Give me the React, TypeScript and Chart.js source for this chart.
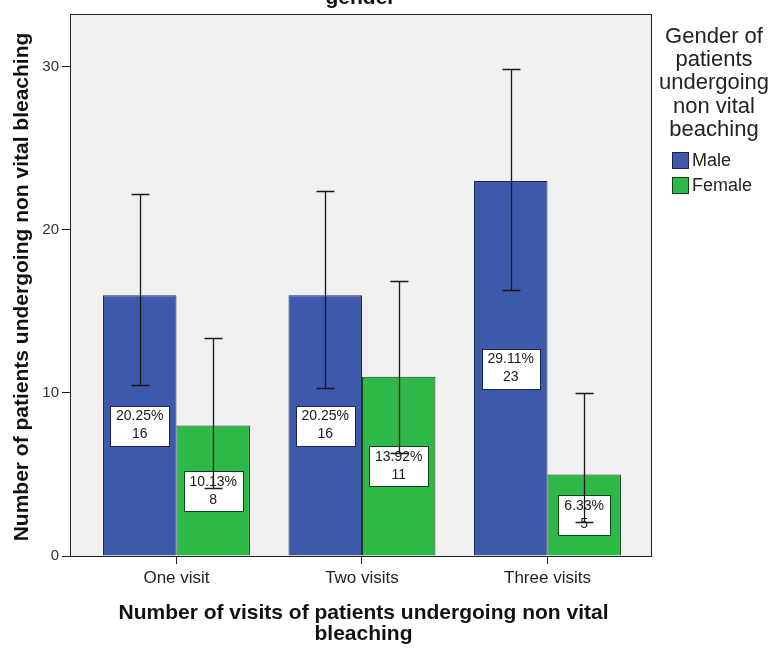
import React, { useEffect, useRef } from 'react';
import { Chart, registerables } from 'chart.js';
Chart.register(...registerables);

const categories = ['One visit', 'Two visits', 'Three visits'];
const seriesNames = ['Male', 'Female'];
const maleCounts = [16, 16, 23];
const femaleCounts = [8, 11, 5];
const malePercents = [20.25, 20.25, 29.11];
const femalePercents = [10.13, 13.92, 6.33];
const maleLower = [10.5, 10.3, 16.3];
const maleUpper = [22.2, 22.4, 29.9];
const femaleLower = [4.2, 6.3, 2.1];
const femaleUpper = [13.4, 16.9, 10.0];
const yTicks = [0, 10, 20, 30];
const chartTitle = 'gender';
const xTitleLines = ['Number of visits of patients undergoing non vital', 'bleaching'];
const yTitle = 'Number of patients undergoing non vital bleaching';
const legendTitleLines = ['Gender of', 'patients', 'undergoing', 'non vital', 'beaching'];

const FONT = '"Liberation Sans", Arial, Helvetica, sans-serif';
const COLORS = ['#3E58AC', '#2EB848'];
const BORDERS = ['#1c2550', '#10401c'];

const overlay = {
  id: 'overlay',
  beforeDraw(chart: any) {
    const { ctx, chartArea: a } = chart;
    ctx.save();
    ctx.fillStyle = '#F0F0F0';
    ctx.fillRect(a.left, a.top, a.right - a.left, a.bottom - a.top);
    ctx.restore();
  },
  afterDatasetsDraw(chart: any) {
    const { ctx, chartArea: a } = chart;
    const ys = chart.scales.y;
    const counts = [maleCounts, femaleCounts];
    const pcts = [malePercents, femalePercents];
    const lows = [maleLower, femaleLower];
    const highs = [maleUpper, femaleUpper];
    ctx.save();
    // value labels
    ctx.font = `14px ${FONT}`;
    ctx.textAlign = 'center';
    ctx.textBaseline = 'middle';
    for (let d = 0; d < 2; d++) {
      const meta = chart.getDatasetMeta(d);
      meta.data.forEach((bar: any, i: number) => {
        const cx = bar.x;
        const cy = ys.getPixelForValue(counts[d][i] / 2);
        const l1 = pcts[d][i].toFixed(2) + '%';
        const l2 = String(counts[d][i]);
        const w = Math.round(Math.max(ctx.measureText(l1).width, ctx.measureText(l2).width) + 12);
        const h = 40;
        const x0 = Math.round(cx - w / 2) + 0.5;
        const y0 = Math.round(cy - h / 2) + 0.5;
        ctx.fillStyle = '#ffffff';
        ctx.fillRect(x0, y0, w, h);
        ctx.strokeStyle = BORDERS[d];
        ctx.lineWidth = 1;
        ctx.strokeRect(x0, y0, w, h);
        ctx.fillStyle = '#1a1a1a';
        ctx.fillText(l1, cx, cy - 9);
        ctx.fillText(l2, cx, cy + 9);
      });
    }
    // error bars
    ctx.strokeStyle = '#1a1a1a';
    ctx.lineWidth = 1.3;
    for (let d = 0; d < 2; d++) {
      const meta = chart.getDatasetMeta(d);
      meta.data.forEach((bar: any, i: number) => {
        const x = Math.round(bar.x) + 0.5;
        const yl = Math.round(ys.getPixelForValue(lows[d][i])) + 0.5;
        const yh = Math.round(ys.getPixelForValue(highs[d][i])) + 0.5;
        ctx.beginPath();
        ctx.moveTo(x, yl);
        ctx.lineTo(x, yh);
        ctx.moveTo(x - 9, yl);
        ctx.lineTo(x + 9, yl);
        ctx.moveTo(x - 9, yh);
        ctx.lineTo(x + 9, yh);
        ctx.stroke();
      });
    }
    // frame
    ctx.strokeStyle = '#222';
    ctx.lineWidth = 1;
    ctx.strokeRect(Math.round(a.left) + 0.5, Math.round(a.top) + 0.5, Math.round(a.right - a.left), Math.round(a.bottom - a.top));
    ctx.restore();
  },
  afterDraw(chart: any) {
    const { ctx, chartArea: a } = chart;
    const cx = (a.left + a.right) / 2;
    ctx.save();
    ctx.fillStyle = '#111';
    ctx.textAlign = 'center';
    // title (partly cut off at the top)
    ctx.font = `bold 21px ${FONT}`;
    ctx.textBaseline = 'alphabetic';
    ctx.fillText(chartTitle, cx, 4);
    // x title
    ctx.textBaseline = 'middle';
    ctx.fillText(xTitleLines[0], cx + 3, 613);
    ctx.fillText(xTitleLines[1], cx + 3, 634);
    // y title
    ctx.save();
    ctx.translate(22, (a.top + a.bottom) / 2 + 2);
    ctx.rotate(-Math.PI / 2);
    ctx.fillText(yTitle, 0, 0);
    ctx.restore();
    // legend
    ctx.fillStyle = '#222';
    ctx.font = `22px ${FONT}`;
    legendTitleLines.forEach((t, i) => ctx.fillText(t, 714, 37 + i * 23.2));
    ctx.font = `18px ${FONT}`;
    ctx.textAlign = 'left';
    seriesNames.forEach((n, i) => {
      const y = 152 + i * 25;
      ctx.fillStyle = COLORS[i];
      ctx.fillRect(672, y, 17, 17);
      ctx.strokeStyle = BORDERS[i];
      ctx.lineWidth = 1;
      ctx.strokeRect(672.5, y + 0.5, 16, 16);
      ctx.fillStyle = '#222';
      ctx.fillText(n, 692, y + 9);
    });
    ctx.restore();
  },
};

export default function App() {
  const ref = useRef<HTMLCanvasElement | null>(null);
  useEffect(() => {
    if (!ref.current) return;
    const chart = new Chart(ref.current, {
      type: 'bar',
      data: {
        datasets: [
          {
            label: seriesNames[0],
            data: maleCounts.map((v, i) => ({ x: i, y: v })),
            backgroundColor: COLORS[0],
            borderColor: BORDERS[0],
            borderWidth: 1,
          },
          {
            label: seriesNames[1],
            data: femaleCounts.map((v, i) => ({ x: i, y: v })),
            backgroundColor: COLORS[1],
            borderColor: BORDERS[1],
            borderWidth: 1,
          },
        ],
      },
      options: {
        responsive: false,
        animation: false,
        devicePixelRatio: 1,
        categoryPercentage: 0.792,
        barPercentage: 1,
        layout: { padding: { left: 0, top: 14, right: 123, bottom: 0 } },
        plugins: { legend: { display: false }, tooltip: { enabled: false }, title: { display: false } },
        scales: {
          x: {
            type: 'linear',
            min: -0.574,
            max: 2.558,
            offset: false,
            afterBuildTicks: (s: any) => {
              s.ticks = categories.map((_, i) => ({ value: i }));
            },
            afterFit: (s: any) => {
              s.height = 92;
            },
            ticks: {
              callback: (v: any) => categories[v] ?? '',
              font: { family: FONT, size: 17 },
              color: '#222',
              padding: 4,
              maxRotation: 0,
              autoSkip: false,
            },
            grid: { offset: false, drawOnChartArea: false, drawTicks: true, tickLength: 8, color: '#222' },
            border: { display: false },
          },
          y: {
            min: 0,
            max: 33.25,
            afterBuildTicks: (s: any) => {
              s.ticks = yTicks.map((v) => ({ value: v }));
            },
            afterFit: (s: any) => {
              s.width = 70;
            },
            ticks: {
              font: { family: FONT, size: 15 },
              color: '#333',
              padding: 3,
            },
            grid: { drawOnChartArea: false, drawTicks: true, tickLength: 8, color: '#222' },
            border: { display: false },
          },
        },
      },
      plugins: [overlay],
    } as any);
    return () => chart.destroy();
  }, []);
  return (
    <div style={{ position: 'fixed', left: 0, top: 0, width: 774, height: 648, background: '#fff' }}>
      <canvas ref={ref} width={774} height={648} />
    </div>
  );
}
